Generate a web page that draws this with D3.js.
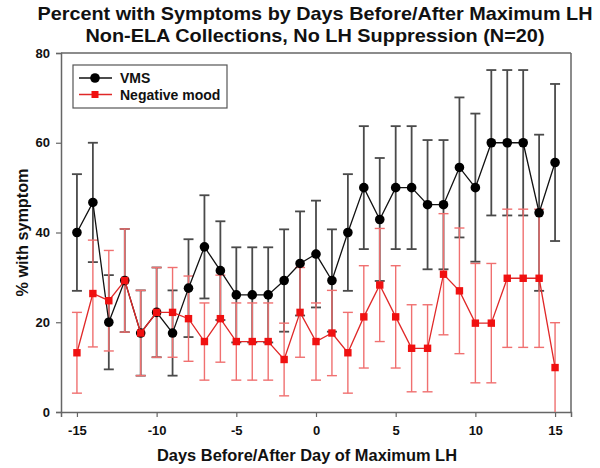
<!DOCTYPE html>
<html>
<head>
<meta charset="utf-8">
<script src="https://cdn.jsdelivr.net/npm/d3@7"></script>
<style>
  html, body { margin: 0; padding: 0; background: #fff; }
  svg text { font-family: "Liberation Sans", Arial, sans-serif; font-weight: bold; }
</style>
</head>
<body>
<svg id="chart" width="600" height="468"></svg>
<script>
const days = [-15,-14,-13,-12,-11,-10,-9,-8,-7,-6,-5,-4,-3,-2,-1,0,1,2,3,4,5,6,7,8,9,10,11,12,13,14,15];
const vms = [40,46.7,20,29.3,17.6,22.2,17.6,27.6,36.8,31.5,26.1,26.1,26.1,29.3,33.1,35.2,29.3,40,50,42.9,50,50,46.2,46.2,54.5,50,60,60,60,44.4,55.6];
const vmsErr = [13,13.3,10.5,11.5,9.5,10,9.5,10.9,11.5,11,10.6,10.6,10.6,11.4,11.6,11.9,11.4,13,13.7,13.7,13.7,13.7,14.4,14.4,15.6,16.5,16.2,16.2,16.2,17.4,17.5];
const mood = [13.2,26.4,24.8,29.3,17.6,22.2,22.2,20.8,15.7,20.8,15.7,15.7,15.7,11.7,22.2,15.7,17.6,13.2,21.2,28.3,21.2,14.2,14.2,30.7,27,19.8,19.8,29.8,29.8,29.8,9.9];
const moodErr = [9,11.9,11.2,11.5,9.5,10,10,9.5,8.6,9.7,8.6,8.6,8.6,8.1,10,8.6,9.5,9,11.4,12.6,11.4,9.7,9.7,13.5,14,13.3,13.3,15.4,15.4,15.4,10];
const xTicks = [-15,-10,-5,0,5,10,15];
const yTicks = [0,20,40,60,80];
const seriesNames = ["VMS", "Negative mood"];
const titleLines = ["Percent with Symptoms by Days Before/After Maximum LH", "Non-ELA Collections, No LH Suppression (N=20)"];
const xLabel = "Days Before/After Day of Maximum LH";
const yLabel = "% with symptom";

const svg = d3.select("#chart");
const x = d3.scaleLinear().domain([-16, 16]).range([61, 571]);
const y = d3.scaleLinear().domain([0, 80]).range([412, 53]);
const axisColor = "#666";

// Title
const titleWidths = [555, 459];
svg.selectAll("text.title").data(titleLines).enter().append("text")
  .attr("class", "title")
  .attr("x", 315).attr("y", (d, i) => 19.5 + i * 22.5)
  .attr("text-anchor", "middle").attr("font-size", 18.5).attr("fill", "#111")
  .attr("textLength", (d, i) => titleWidths[i]).attr("lengthAdjust", "spacingAndGlyphs")
  .text(d => d);

// Frame (top and right)
svg.append("line").attr("x1", x(-16)).attr("x2", x(16)).attr("y1", y(80)).attr("y2", y(80))
  .attr("stroke", axisColor).attr("stroke-width", 1.5);
svg.append("line").attr("x1", x(16)).attr("x2", x(16)).attr("y1", y(80)).attr("y2", y(0))
  .attr("stroke", axisColor).attr("stroke-width", 1.5);

// Axes
const xAxis = svg.append("g").attr("transform", `translate(0,${y(0)})`)
  .call(d3.axisBottom(x).tickValues(xTicks).tickSize(5).tickPadding(9).tickFormat(d3.format("d")));
const yAxis = svg.append("g").attr("transform", `translate(${x(-16)},0)`)
  .call(d3.axisLeft(y).tickValues(yTicks).tickSize(5).tickPadding(6));
[xAxis, yAxis].forEach(g => {
  g.select(".domain").attr("stroke", axisColor).attr("stroke-width", 1.5);
  g.selectAll(".tick line").attr("stroke", axisColor).attr("stroke-width", 1.2);
  g.selectAll(".tick text").attr("font-size", 13).attr("fill", "#111")
    .attr("font-family", "Liberation Sans, Arial, sans-serif").attr("font-weight", "bold");
});
xAxis.selectAll(".tick text").text(d => d < 0 ? "-" + Math.abs(d) : d);

// Axis labels
svg.append("text").attr("x", 307).attr("y", 461).attr("text-anchor", "middle")
  .attr("font-size", 16.5).attr("fill", "#111")
  .attr("textLength", 300).attr("lengthAdjust", "spacingAndGlyphs").text(xLabel);
svg.append("text").attr("transform", `translate(28,${(y(0)+y(80))/2}) rotate(-90)`)
  .attr("text-anchor", "middle").attr("font-size", 16).attr("fill", "#111")
  .attr("textLength", 128).attr("lengthAdjust", "spacingAndGlyphs").text(yLabel);

// Error bars
function errorBars(vals, errs, color, width, cls) {
  const g = svg.append("g").attr("class", cls);
  const data = days.map((d, i) => ({d, lo: Math.max(0, vals[i] - errs[i]), hi: vals[i] + errs[i]}));
  g.selectAll("line.v").data(data).enter().append("line")
    .attr("x1", p => x(p.d)).attr("x2", p => x(p.d))
    .attr("y1", p => y(p.lo)).attr("y2", p => y(p.hi))
    .attr("stroke", color).attr("stroke-width", width);
  g.selectAll("line.top").data(data).enter().append("line")
    .attr("x1", p => x(p.d) - 5).attr("x2", p => x(p.d) + 5)
    .attr("y1", p => y(p.hi)).attr("y2", p => y(p.hi))
    .attr("stroke", color).attr("stroke-width", width);
  g.selectAll("line.bot").data(data.filter(p => p.lo > 0)).enter().append("line")
    .attr("x1", p => x(p.d) - 5).attr("x2", p => x(p.d) + 5)
    .attr("y1", p => y(p.lo)).attr("y2", p => y(p.lo))
    .attr("stroke", color).attr("stroke-width", width);
}
errorBars(vms, vmsErr, "#4a4a4a", 1.8, "vmsErr");
errorBars(mood, moodErr, "#f07070", 1.4, "moodErr");

const line = d3.line().x((v, i) => x(days[i])).y(v => y(v));

// VMS series
svg.append("path").datum(vms).attr("d", line).attr("fill", "none")
  .attr("stroke", "#111").attr("stroke-width", 1.3);
svg.selectAll("circle.vms").data(vms).enter().append("circle")
  .attr("class", "vms").attr("cx", (v, i) => x(days[i])).attr("cy", v => y(v))
  .attr("r", 4.8).attr("fill", "#000");

// Mood series
svg.append("path").datum(mood).attr("d", line).attr("fill", "none")
  .attr("stroke", "#e02828").attr("stroke-width", 1.3);
svg.selectAll("rect.mood").data(mood).enter().append("rect")
  .attr("class", "mood").attr("x", (v, i) => x(days[i]) - 3.7).attr("y", v => y(v) - 3.7)
  .attr("width", 7.4).attr("height", 7.4).attr("fill", "#f01010");

// Legend
const lg = svg.append("g");
lg.append("rect").attr("x", 73).attr("y", 65).attr("width", 154).attr("height", 43)
  .attr("fill", "#fff").attr("stroke", "#555").attr("stroke-width", 1.2);
const legendColors = [["#111", "#000"], ["#e02828", "#f01010"]];
seriesNames.forEach((name, i) => {
  const ly = 78 + i * 16.5;
  lg.append("line").attr("x1", 79).attr("x2", 112).attr("y1", ly).attr("y2", ly)
    .attr("stroke", legendColors[i][0]).attr("stroke-width", 1.3);
  if (i === 0) {
    lg.append("circle").attr("cx", 95).attr("cy", ly).attr("r", 4.8).attr("fill", legendColors[i][1]);
  } else {
    lg.append("rect").attr("x", 95 - 3.5).attr("y", ly - 3.5).attr("width", 7).attr("height", 7).attr("fill", legendColors[i][1]);
  }
  lg.append("text").attr("x", 120).attr("y", ly + 5).attr("font-size", 14).attr("fill", "#111").text(name);
});
</script>
</body>
</html>
